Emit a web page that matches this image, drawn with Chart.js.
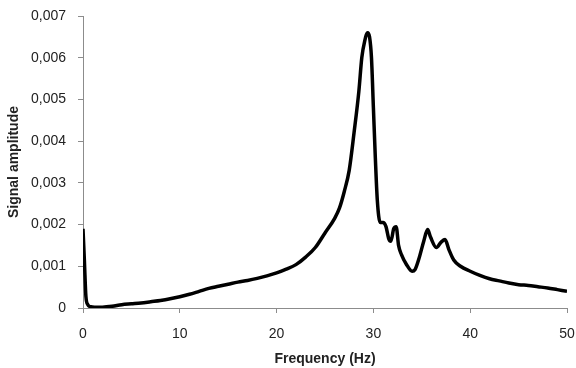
<!DOCTYPE html>
<html>
<head>
<meta charset="utf-8">
<script src="https://cdn.jsdelivr.net/npm/chart.js@4/dist/chart.umd.min.js"></script>
<style>
html,body{margin:0;padding:0;background:#fff;}
#wrap{width:576px;height:368px;}
</style>
</head>
<body>
<div id="wrap"><canvas id="c" width="576" height="368"></canvas></div>
<script>
const frequency = [0, 0.15, 0.3, 0.5, 0.8, 1.2, 2, 3, 4, 5, 6, 7, 8, 9, 10, 11, 12, 13, 14, 15, 16, 17, 18, 19, 20, 21, 22, 23, 24, 25, 26, 26.5, 27, 27.5, 28, 28.5, 28.8, 29.1, 29.4, 29.6, 29.8, 30.0, 30.2, 30.4, 30.7, 31.0, 31.3, 31.6, 31.8, 32.1, 32.35, 32.6, 32.9, 33.4, 34.0, 34.3, 34.7, 35.2, 35.6, 35.9, 36.5, 37.0, 37.4, 37.8, 38.3, 39.0, 40, 41, 42, 43, 44, 45, 46, 47, 48, 49, 50];
const amplitude = [0.0019, 0.0011, 0.00028, 0.00008, 0.00003, 0.00002, 0.00002, 0.00004, 0.00008, 0.00010, 0.00012, 0.00015, 0.00018, 0.00022, 0.00027, 0.00033, 0.0004, 0.00047, 0.00052, 0.00057, 0.00062, 0.00066, 0.00071, 0.00077, 0.00084, 0.00093, 0.00104, 0.00122, 0.00145, 0.0018, 0.00215, 0.0024, 0.0028, 0.0033, 0.0042, 0.0052, 0.0060, 0.0064, 0.0066, 0.0065, 0.0060, 0.0048, 0.0036, 0.0026, 0.00205, 0.00205, 0.00195, 0.00165, 0.0016, 0.0019, 0.00195, 0.0015, 0.00128, 0.00105, 0.00088, 0.00092, 0.00118, 0.0016, 0.00188, 0.0017, 0.00145, 0.00158, 0.00164, 0.0014, 0.00115, 0.00100, 0.00088, 0.00078, 0.0007, 0.00065, 0.0006, 0.00056, 0.00054, 0.00051, 0.00048, 0.00044, 0.0004];
const xTitle = 'Frequency (Hz)';
const yTitle = 'Signal amplitude';

const points = frequency.map((f, i) => ({x: f, y: amplitude[i]}));
const axisColor = '#8c8c8c';
const tickFont = {family: 'Liberation Sans', size: 14};
const titleFont = {family: 'Liberation Sans', size: 14, weight: 'bold'};

new Chart(document.getElementById('c'), {
  type: 'scatter',
  data: {datasets: [{
    data: points,
    showLine: true,
    borderColor: '#000',
    borderWidth: 3.5,
    pointRadius: 0,
    cubicInterpolationMode: 'monotone',
    fill: false
  }]},
  options: {
    responsive: false,
    animation: false,
    layout: {padding: {left: 0, right: 9, top: 16, bottom: 0}},
    plugins: {legend: {display: false}, tooltip: {enabled: false}},
    scales: {
      x: {
        type: 'linear', min: 0, max: 50,
        ticks: {stepSize: 10, color: '#222', font: tickFont, padding: 13, maxRotation: 0},
        grid: {drawOnChartArea: false, drawTicks: true, tickLength: 5, color: axisColor},
        border: {color: axisColor, width: 1},
        title: {display: true, text: xTitle, color: '#222', font: titleFont, padding: {top: 0, bottom: 0}},
        afterFit: s => { s.height = 60; s.paddingLeft = 0; s.paddingRight = 0; }
      },
      y: {
        type: 'linear', min: 0, max: 0.007,
        ticks: {stepSize: 0.001, color: '#222', font: tickFont, padding: 12,
          callback: v => Math.abs(v) < 1e-12 ? '0' : v.toFixed(3).replace('.', ',')},
        grid: {drawOnChartArea: false, drawTicks: true, tickLength: 5, color: axisColor},
        border: {color: axisColor, width: 1},
        title: {display: true, text: yTitle, color: '#222', font: titleFont, padding: {top: 6, bottom: 0}},
        afterFit: s => { s.width = 83; s.paddingTop = 0; s.paddingBottom = 0; }
      }
    }
  }
});
</script>
</body>
</html>
